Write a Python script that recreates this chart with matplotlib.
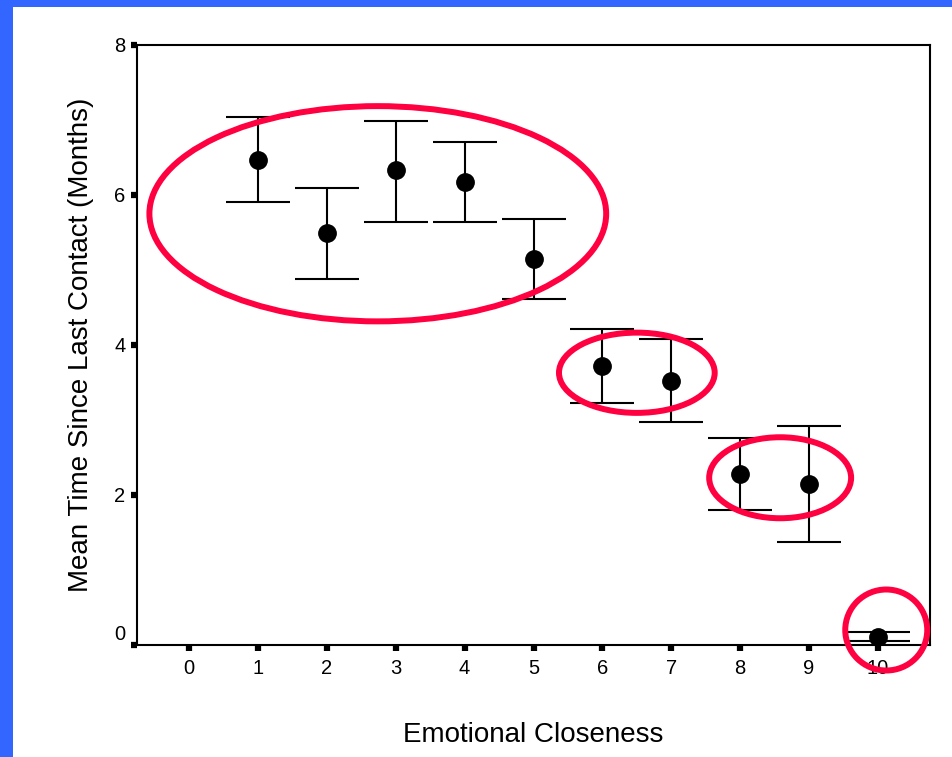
import matplotlib.pyplot as plt
import matplotlib.transforms as mtransforms
from matplotlib.patches import Ellipse, Rectangle

plt.rcParams['font.family'] = ['Liberation Sans', 'DejaVu Sans']

# ------------ Data -------------
closeness = [1, 2, 3, 4, 5, 6, 7, 8, 9, 10]
mean_time = [6.47, 5.49, 6.33, 6.17, 5.15, 3.72, 3.52, 2.28, 2.15, 0.11]
upper_ci = [7.04, 6.09, 6.99, 6.71, 5.68, 4.21, 4.08, 2.76, 2.92, 0.17]
lower_ci = [5.91, 4.88, 5.64, 5.64, 4.61, 3.23, 2.97, 1.80, 1.37, 0.05]

x_ticks = list(range(0, 11))
y_ticks = [0, 2, 4, 6, 8]

# highlight ellipses: centre x, centre y, width, height (data units)
ell_x = [2.74, 6.50, 8.58, 10.12]
ell_y = [5.75, 3.63, 2.23, 0.20]
ell_w = [6.63, 2.26, 2.06, 1.19]
ell_h = [2.87, 1.07, 1.08, 1.08]

# ------------ Figure -------------
W, H = 953, 757
fig = plt.figure(figsize=(W / 100, H / 100), dpi=100, facecolor="#3366FF")
# white slide area (blue strip left and top)
fig.patches.append(Rectangle((13 / W, 0), 1 - 13 / W, 1 - 7 / H,
                             transform=fig.transFigure, facecolor="white",
                             edgecolor="none", zorder=-5))

ax = fig.add_axes([137 / W, (H - 645) / H, (930 - 137) / W, (645 - 45) / H])
ax.set_zorder(2)

yerr = [[m - lo for m, lo in zip(mean_time, lower_ci)],
        [up - m for m, up in zip(mean_time, upper_ci)]]
ax.errorbar(closeness, mean_time, yerr=yerr, fmt="o", color="black",
            markersize=12.5, elinewidth=1.5, capsize=23, capthick=1.5,
            zorder=3)

for cx, cy, w, h in zip(ell_x, ell_y, ell_w, ell_h):
    ax.add_patch(Ellipse((cx, cy), w, h, fill=False, edgecolor="#FF0040",
                         linewidth=4.3, zorder=4, clip_on=False))

ax.set_xlim(-0.755, 10.755)
ax.set_ylim(0, 8)
ax.set_xticks(x_ticks)
ax.set_yticks(y_ticks)
ax.tick_params(direction="out", length=4.3, width=4.5, labelsize=14.5,
               color="black", pad=4)
ax.tick_params(axis="x", pad=6)

for s in ax.spines.values():
    s.set_linewidth(1.5)

# nudge the "0" label up, as in the original
lab0 = ax.get_yticklabels()[0]
lab0.set_transform(lab0.get_transform() +
                   mtransforms.ScaledTranslation(0, 12 / 100, fig.dpi_scale_trans))

ax.set_xlabel("Emotional Closeness", fontsize=20)
ax.set_ylabel("Mean Time Since Last Contact (Months)", fontsize=20)
ax.xaxis.set_label_coords(0.5, (645 - 722) / 600)
ax.yaxis.set_label_coords((94 - 137) / 793, 0.5)

fig.savefig("out.png", dpi=100, facecolor=fig.get_facecolor())
